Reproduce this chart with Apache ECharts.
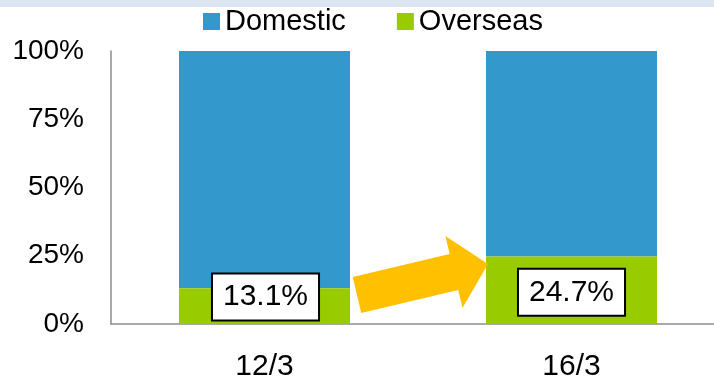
<!DOCTYPE html>
<html>
<head>
<meta charset="utf-8">
<script src="https://cdn.jsdelivr.net/npm/echarts@6/dist/echarts.min.js"></script>
<style>
  html, body { margin: 0; padding: 0; background: #fff; }
  #chart { width: 714px; height: 376px; }
</style>
</head>
<body>
<div id="chart"></div>
<script>
// Sales mix by region, fiscal years ending March
const categories = ['12/3', '16/3'];
const overseasShare = [13.1, 24.7];
const domesticShare = [86.9, 75.3];
const yTicks = [0, 25, 50, 75, 100];

// per-bar nudges of the value boxes
const labelOffsets = [[1, -9], [0, 2]];

const FONT = '"Liberation Sans", Arial, sans-serif';
const BLUE = '#3399CC';
const GREEN = '#99CC00';
const ARROW = '#FFC000';

const chart = echarts.init(document.getElementById('chart'), null, { renderer: 'canvas' });

const option = {
  animation: false,
  backgroundColor: '#fff',
  textStyle: { fontFamily: FONT, color: '#000' },
  legend: {
    data: ['Domestic', 'Overseas'],
    left: 203,
    top: 7,
    padding: 0,
    itemWidth: 17,
    itemHeight: 17,
    itemGap: 51,
    icon: 'rect',
    textStyle: { fontFamily: FONT, fontSize: 29, color: '#000' }
  },
  // the plot runs past the right edge of the canvas
  grid: { left: 111, right: -11, top: 51, bottom: 52, containLabel: false, outerBoundsMode: 'none' },
  xAxis: {
    type: 'category',
    data: categories,
    axisLine: { show: true, lineStyle: { color: '#8c8c8c', width: 1.5 } },
    axisTick: { show: false },
    axisLabel: { fontFamily: FONT, fontSize: 30, color: '#000', margin: 28 }
  },
  yAxis: {
    type: 'value',
    min: yTicks[0],
    max: yTicks[yTicks.length - 1],
    interval: yTicks[1] - yTicks[0],
    axisLine: { show: true, lineStyle: { color: '#8c8c8c', width: 1.5 } },
    axisTick: { show: false },
    splitLine: { show: false },
    axisLabel: { fontFamily: FONT, fontSize: 28, color: '#000', margin: 27, formatter: '{value}%' }
  },
  series: [
    {
      name: 'Overseas',
      type: 'bar',
      stack: 'share',
      barWidth: 171,
      itemStyle: { color: GREEN },
      data: overseasShare.map((v, i) => ({
        value: v,
        label: { offset: labelOffsets[i] }
      })),
      label: {
        show: true,
        position: 'inside',
        formatter: p => p.value.toFixed(1) + '%',
        fontFamily: FONT,
        fontSize: 30,
        lineHeight: 30,
        color: '#000',
        backgroundColor: '#fff',
        borderColor: '#000',
        borderWidth: 2,
        padding: [8, 10, 7, 10]
      },
      z: 3
    },
    {
      name: 'Domestic',
      type: 'bar',
      stack: 'share',
      barWidth: 171,
      itemStyle: { color: BLUE },
      data: domesticShare,
      z: 2
    }
  ],
  graphic: [
    {
      type: 'rect',
      left: 0, top: 0,
      shape: { x: 0, y: 0, width: 714, height: 7 },
      style: { fill: '#DCE6F2' },
      silent: true
    }
  ]
};

chart.setOption(option);

// Block arrow between the two bars, placed from the rendered bar geometry
function drawArrow() {
  const halfBar = 171 / 2;
  const c0 = chart.convertToPixel({ gridIndex: 0 }, [0, 0]);
  const c1 = chart.convertToPixel({ gridIndex: 0 }, [1, 0]);
  const axisY = c0[1];
  const start = [c0[0] + halfBar + 7, axisY - 29];
  const tip = [c1[0] - halfBar + 2, axisY - 60];
  const dx = tip[0] - start[0], dy = tip[1] - start[1];
  const len = Math.hypot(dx, dy);
  const u = [dx / len, dy / len];
  const n = [-u[1], u[0]];
  const headLen = 35, shaft = 18.5, head = 37;
  const base = [start[0] + u[0] * (len - headLen), start[1] + u[1] * (len - headLen)];
  const p = (o, k) => [o[0] + n[0] * k, o[1] + n[1] * k];
  const points = [
    p(start, -shaft), p(base, -shaft), p(base, -head), tip,
    p(base, head), p(base, shaft), p(start, shaft)
  ];
  chart.setOption({
    graphic: [
      option.graphic[0],
      {
        type: 'polygon',
        shape: { points: points },
        style: { fill: ARROW },
        z: 10,
        silent: true
      }
    ]
  });
}
drawArrow();
</script>
</body>
</html>
